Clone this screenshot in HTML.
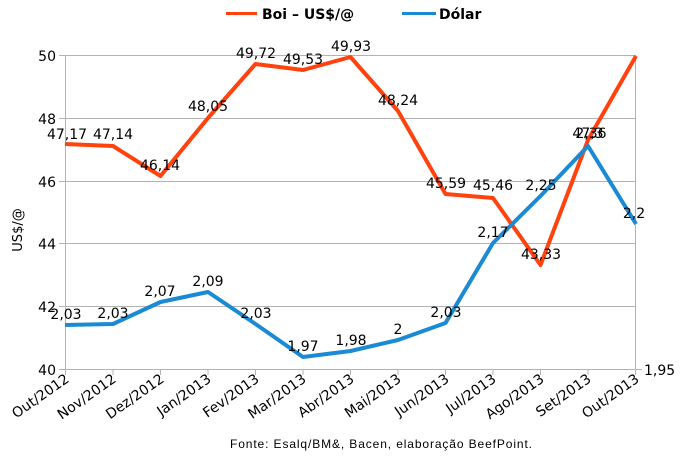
<!DOCTYPE html>
<html><head><meta charset="utf-8"><style>
body{margin:0;background:#fff}
svg{display:block;font-family:"DejaVu Sans","Liberation Sans",sans-serif}
</style></head><body>
<svg width="684" height="460" viewBox="0 0 684 460" xmlns="http://www.w3.org/2000/svg">
<rect width="684" height="460" fill="#fff"/>
<g stroke="#b3b3b3" stroke-width="1">
<line x1="59" y1="55.5" x2="636" y2="55.5"/>
<line x1="59" y1="118.5" x2="636" y2="118.5"/>
<line x1="59" y1="181.5" x2="636" y2="181.5"/>
<line x1="59" y1="243.5" x2="636" y2="243.5"/>
<line x1="59" y1="306.5" x2="636" y2="306.5"/>
<line x1="59" y1="369.5" x2="642" y2="369.5"/>
<line x1="65.5" y1="55" x2="65.5" y2="375"/>
<line x1="635.5" y1="55" x2="635.5" y2="375"/>
<line x1="113" y1="369" x2="113" y2="375"/><line x1="160.5" y1="369" x2="160.5" y2="375"/>
<line x1="208" y1="369" x2="208" y2="375"/><line x1="255.5" y1="369" x2="255.5" y2="375"/>
<line x1="303" y1="369" x2="303" y2="375"/><line x1="350.5" y1="369" x2="350.5" y2="375"/>
<line x1="398" y1="369" x2="398" y2="375"/><line x1="445.5" y1="369" x2="445.5" y2="375"/>
<line x1="493" y1="369" x2="493" y2="375"/><line x1="540.5" y1="369" x2="540.5" y2="375"/>
<line x1="588" y1="369" x2="588" y2="375"/>
</g>
<g font-size="14" fill="#000" text-anchor="end">
<text x="56" y="61">50</text><text x="56" y="124">48</text><text x="56" y="187">46</text>
<text x="56" y="249">44</text><text x="56" y="312">42</text><text x="56" y="375">40</text>
</g>
<text x="644" y="375" font-size="14">1,95</text>
<text transform="translate(22,230) rotate(-90)" font-size="13" text-anchor="middle">US$/@</text>
<g font-size="14" text-anchor="end">
<text transform="translate(70,381) rotate(-35)">Out/2012</text>
<text transform="translate(117,381) rotate(-35)">Nov/2012</text>
<text transform="translate(165,381) rotate(-35)">Dez/2012</text>
<text transform="translate(212,381) rotate(-35)">Jan/2013</text>
<text transform="translate(260,381) rotate(-35)">Fev/2013</text>
<text transform="translate(307,381) rotate(-35)">Mar/2013</text>
<text transform="translate(355,381) rotate(-35)">Abr/2013</text>
<text transform="translate(402,381) rotate(-35)">Mai/2013</text>
<text transform="translate(450,381) rotate(-35)">Jun/2013</text>
<text transform="translate(497,381) rotate(-35)">Jul/2013</text>
<text transform="translate(545,381) rotate(-35)">Ago/2013</text>
<text transform="translate(592,381) rotate(-35)">Set/2013</text>
<text transform="translate(640,381) rotate(-35)">Out/2013</text>
</g>
<polyline fill="none" stroke="#ff420e" stroke-width="4" stroke-linejoin="round" points="65,144 113,146 160.5,176 208,118 255.5,64 303,70 350.5,57 398,111 445.5,194 493,198 540.5,265 588,140 636,56"/>
<polyline fill="none" stroke="#1a8ad4" stroke-width="4" stroke-linejoin="round" points="65,325 113,324 160.5,302 208,292 255.5,324 303,357 350.5,351 398,340 445.5,323 493,243 540.5,196 588,146 636,224"/>
<g font-size="14" text-anchor="middle">
<text x="67" y="139">47,17</text><text x="113" y="139">47,14</text><text x="160" y="170">46,14</text>
<text x="208" y="111">48,05</text><text x="256" y="58">49,72</text><text x="303" y="64">49,53</text>
<text x="351" y="51">49,93</text><text x="398" y="105">48,24</text><text x="446" y="188">45,59</text>
<text x="493" y="190">45,46</text><text x="541" y="259">43,33</text><text x="588" y="138">47,3</text>
<text x="66" y="319">2,03</text><text x="113" y="318">2,03</text><text x="160" y="296">2,07</text>
<text x="208" y="286">2,09</text><text x="256" y="318">2,03</text><text x="303" y="351">1,97</text>
<text x="351" y="345">1,98</text><text x="398" y="334">2</text><text x="446" y="317">2,03</text>
<text x="493" y="237">2,17</text><text x="541" y="190">2,25</text><text x="591" y="138">2,36</text>
<text x="634" y="218">2,2</text>
</g>
<line x1="226" y1="13.5" x2="257" y2="13.5" stroke="#ff420e" stroke-width="3"/>
<text x="262" y="19" font-size="14" font-weight="bold">Boi – US$/@</text>
<line x1="402" y1="13.5" x2="436" y2="13.5" stroke="#1a8ad4" stroke-width="3"/>
<text x="439" y="19" font-size="14" font-weight="bold">Dólar</text>
<text x="230" y="448" font-size="12" font-family="Liberation Sans, sans-serif" textLength="302">Fonte: Esalq/BM&amp;, Bacen, elaboração BeefPoint.</text>
</svg>
</body></html>
